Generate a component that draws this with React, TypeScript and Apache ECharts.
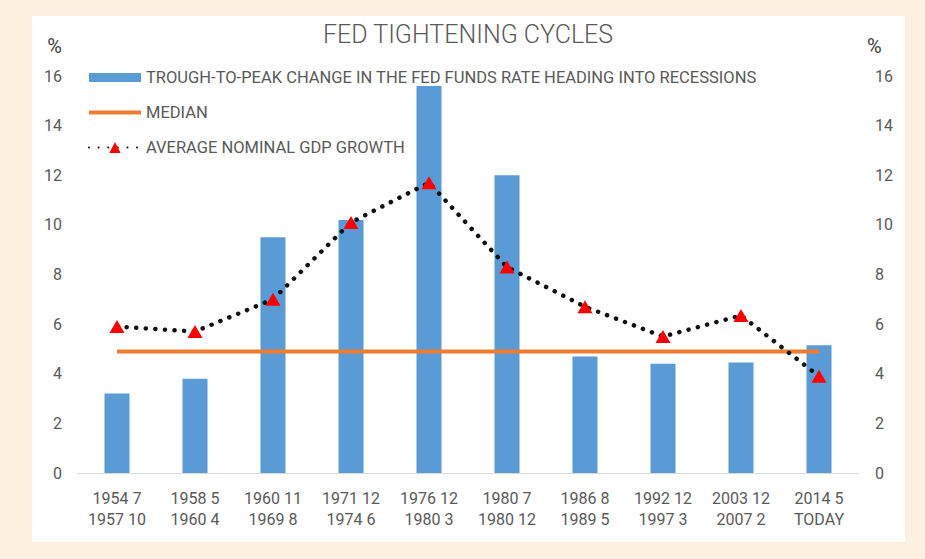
import React, { useEffect, useRef } from "react";
import * as echarts from "echarts";

const categories = [
  "1954 7\n1957 10",
  "1958 5\n1960 4",
  "1960 11\n1969 8",
  "1971 12\n1974 6",
  "1976 12\n1980 3",
  "1980 7\n1980 12",
  "1986 8\n1989 5",
  "1992 12\n1997 3",
  "2003 12\n2007 2",
  "2014 5\nTODAY",
];
const fedFundsChange = [3.2, 3.8, 9.5, 10.2, 15.6, 12.0, 4.7, 4.4, 4.45, 5.15];
const medianValues = [4.9, 4.9, 4.9, 4.9, 4.9, 4.9, 4.9, 4.9, 4.9, 4.9];
const gdpGrowth = [5.9, 5.7, 7.0, 10.1, 11.7, 8.3, 6.7, 5.5, 6.35, 3.9];

const BAR_NAME = "TROUGH-TO-PEAK CHANGE IN THE FED FUNDS RATE HEADING INTO RECESSIONS";
const MEDIAN_NAME = "MEDIAN";
const GDP_NAME = "AVERAGE NOMINAL GDP GROWTH";

const FONT = "Roboto, 'Liberation Sans', sans-serif";
const TXT = "#595959";

export default function App() {
  const ref = useRef<HTMLDivElement>(null);
  useEffect(() => {
    if (!ref.current) return;
    const chart = echarts.init(ref.current, undefined, { renderer: "svg" });
    const yAxisBase = {
      type: "value",
      min: 0,
      max: 16,
      interval: 2,
      splitLine: { show: false },
      axisLine: { show: false },
      axisTick: { show: false },
      name: "%",
      nameLocation: "end",
      nameGap: 30,
    };
    chart.setOption({
      animation: false,
      backgroundColor: "#fcf0e0",
      textStyle: { fontFamily: FONT },
      graphic: [
        {
          type: "rect",
          z: -10,
          silent: true,
          shape: { x: 32, y: 16, width: 873, height: 526 },
          style: { fill: "#ffffff" },
        },
      ],
      title: {
        text: "FED TIGHTENING CYCLES",
        left: 323,
        top: 22,
        padding: 0,
        textStyle: { fontFamily: FONT, fontSize: 25, fontWeight: 300, color: TXT },
      },
      legend: {
        orient: "vertical",
        left: 88,
        top: 69,
        padding: 0,
        itemWidth: 52,
        itemHeight: 14,
        itemGap: 18,
        textStyle: { fontFamily: FONT, fontSize: 16.5, lineHeight: 16, color: TXT },
        data: [
          { name: BAR_NAME, icon: "path://M0 0H52V9H0Z" },
          { name: MEDIAN_NAME, icon: "path://M0 0H52V4H0Z" },
          { name: GDP_NAME },
        ],
      },
      grid: { left: 78, right: 67, top: 76, bottom: 86, containLabel: false },
      xAxis: {
        type: "category",
        data: categories,
        axisLine: { lineStyle: { color: "#d9d9d9", width: 1 } },
        axisTick: { show: false },
        axisLabel: {
          color: TXT,
          fontSize: 16,
          lineHeight: 21,
          margin: 15,
          interval: 0,
          fontFamily: FONT,
        },
      },
      yAxis: [
        {
          ...yAxisBase,
          position: "left",
          axisLabel: { color: TXT, fontSize: 16, margin: 16, fontFamily: FONT },
          nameTextStyle: {
            color: "#404040",
            fontSize: 20,
            fontFamily: FONT,
            align: "right",
            verticalAlign: "middle",
            padding: [0, 16, 0, 0],
          },
        },
        {
          ...yAxisBase,
          position: "right",
          axisLabel: { color: TXT, fontSize: 16, margin: 17, fontFamily: FONT },
          nameTextStyle: {
            color: "#404040",
            fontSize: 20,
            fontFamily: FONT,
            align: "left",
            verticalAlign: "middle",
            padding: [0, 0, 0, 9],
          },
        },
      ],
      series: [
        {
          name: BAR_NAME,
          type: "bar",
          data: fedFundsChange,
          barWidth: 25,
          itemStyle: { color: "#5b9bd5" },
          z: 1,
        },
        {
          name: MEDIAN_NAME,
          type: "line",
          data: medianValues,
          symbol: "none",
          itemStyle: { color: "#ed7d31" },
          lineStyle: { color: "#ed7d31", width: 4 },
          z: 2,
        },
        {
          name: GDP_NAME,
          type: "line",
          data: gdpGrowth,
          symbol: "triangle",
          symbolSize: [15, 13],
          itemStyle: { color: "#ff0000" },
          lineStyle: { color: "#111111", width: 4.5, type: [0.1, 9.5], cap: "round" },
          z: 3,
        },
      ],
    });
    return () => chart.dispose();
  }, []);
  return (
    <div
      ref={ref}
      style={{ position: "fixed", left: 0, top: 0, width: 925, height: 559 }}
    />
  );
}
